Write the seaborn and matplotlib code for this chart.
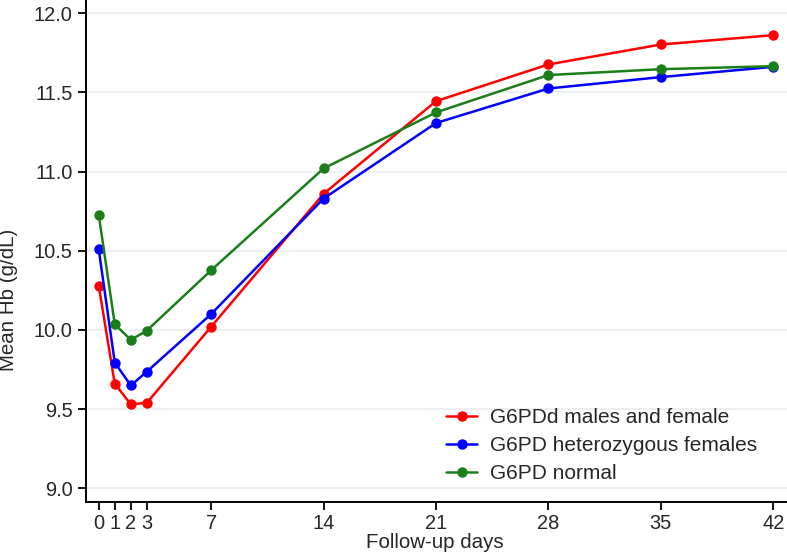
import matplotlib
matplotlib.use("Agg")
import matplotlib.pyplot as plt
import seaborn as sns
import pandas as pd

days = [0, 1, 2, 3, 7, 14, 21, 28, 35, 42]
groups = ["G6PDd males and female", "G6PD heterozygous females", "G6PD normal"]
hb_deficient = [10.28, 9.66, 9.53, 9.54, 10.02, 10.86, 11.445, 11.677, 11.803, 11.862]
hb_hetero = [10.51, 9.794, 9.649, 9.737, 10.10, 10.83, 11.307, 11.525, 11.597, 11.662]
hb_normal = [10.728, 10.036, 9.937, 9.996, 10.377, 11.02, 11.374, 11.61, 11.647, 11.666]
colors = ["#ff0000", "#0000ff", "#1a7f1a"]
yticks = [9.0, 9.5, 10.0, 10.5, 11.0, 11.5, 12.0]

df = pd.DataFrame({
    "day": days * 3,
    "hb": hb_deficient + hb_hetero + hb_normal,
    "group": [groups[0]] * len(days) + [groups[1]] * len(days) + [groups[2]] * len(days),
})

sns.set_style("ticks")
plt.rcParams["font.family"] = ["Liberation Sans", "DejaVu Sans"]

fig = plt.figure(figsize=(7.87, 5.57), dpi=100)
ax = fig.add_axes([85.7 / 787, 55.3 / 557, (787 - 85.7) / 787, (557 - 55.3) / 557])

for y in yticks:
    ax.axhline(y, color="#e6edf1", lw=1.2, zorder=0)

sns.lineplot(data=df, x="day", y="hb", hue="group", hue_order=groups,
             palette=colors, marker="o", markersize=7.5, markeredgewidth=0,
             linewidth=1.8, ax=ax)

ax.set_xlim(-0.81, 42.85)
ax.set_ylim(8.915, 12.084)
ax.set_xticks(days)
ax.set_xticklabels([str(d) for d in days])
ax.set_yticks(yticks)
ax.set_yticklabels([f"{v:.1f}" for v in yticks])
ax.tick_params(axis="both", labelsize=14.4, length=6, width=1.3, color="black")
ax.tick_params(axis="y", pad=3.5)
ax.tick_params(axis="x", pad=3)
ax.set_xlabel("Follow-up days", fontsize=14.8)
ax.set_ylabel("Mean Hb (g/dL)", fontsize=14.8)
ax.xaxis.set_label_coords((435 - 85.7) / (787 - 85.7), -(543 - 501.7) / 501.7)
ax.yaxis.set_label_coords(-(85.7 - 8.5) / (787 - 85.7), (501.7 - 300) / 501.7)
ax.xaxis.label.set_va("center")
ax.yaxis.label.set_va("center")

for s in ["top", "right"]:
    ax.spines[s].set_visible(False)
for s in ["left", "bottom"]:
    ax.spines[s].set_linewidth(1.4)
    ax.spines[s].set_color("black")

leg = ax.legend(title=None, frameon=False, fontsize=15, loc="upper left",
                bbox_to_anchor=((446 - 85.7) / (787 - 85.7), (501.7 - 408) / 501.7),
                handlelength=1.5, handletextpad=0.6, labelspacing=0.44,
                borderpad=0, borderaxespad=0)

fig.savefig("out.png", dpi=100)
